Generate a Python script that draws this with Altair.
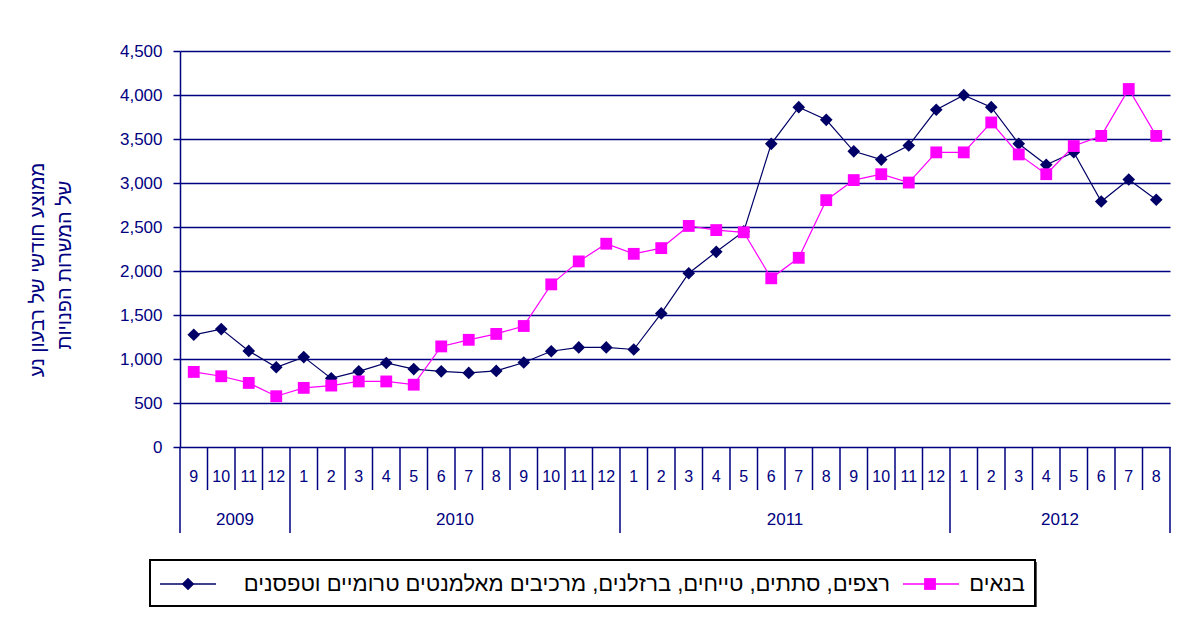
import altair as alt
import pandas as pd

# ---- data ----
month_labels = ["9", "10", "11", "12",
                "1", "2", "3", "4", "5", "6", "7", "8", "9", "10", "11", "12",
                "1", "2", "3", "4", "5", "6", "7", "8", "9", "10", "11", "12",
                "1", "2", "3", "4", "5", "6", "7", "8"]
years = ["2009", "2010", "2011", "2012"]
months_per_year = [4, 12, 12, 8]

navy_name = "רצפים, סתתים, טייחים, ברזלנים, מרכיבים מאלמנטים טרומיים וטפסנים"
magenta_name = "בנאים"

navy_values = [1275, 1340, 1092, 906,
               1022, 780, 860, 955, 885, 860, 842, 865, 960, 1088, 1132, 1132,
               1108, 1518, 1975, 2218, 2450, 3445, 3862, 3718, 3360, 3266, 3426, 3832,
               3998, 3862, 3446, 3207, 3350, 2790, 3040, 2810]
magenta_values = [853, 804, 728, 577,
                  672, 698, 745, 745, 708, 1143, 1218, 1285, 1375, 1848, 2109, 2310,
                  2195, 2260, 2512, 2465, 2440, 1917, 2150, 2805, 3033, 3100, 3005, 3348,
                  3348, 3688, 3325, 3100, 3420, 3535, 4068, 3535]
y_ticks = [0, 500, 1000, 1500, 2000, 2500, 3000, 3500, 4000, 4500]
y_title = ["ממוצע חודשי של רבעון נע", "של המשרות הפנויות"]

# ---- tables ----
n = len(month_labels)
pos = [k + 0.5 for k in range(n)]
df_navy = pd.DataFrame({"pos": pos, "v": navy_values})
df_mag = pd.DataFrame({"pos": pos, "v": magenta_values})
df_months = pd.DataFrame({"pos": pos, "m": month_labels})

year_bounds = [0]
for c in months_per_year:
    year_bounds.append(year_bounds[-1] + c)
year_centers = [(year_bounds[k] + year_bounds[k + 1]) / 2 for k in range(len(years))]
df_years = pd.DataFrame({"pos": year_centers, "y": years})
df_ysep = pd.DataFrame({"b": year_bounds})
df_msep = pd.DataFrame({"b": [k for k in range(1, n) if k not in year_bounds]})

W, H = 990, 396
NAVY = "#000080"
FONT = "Liberation Sans"

xs = alt.Scale(domain=[0, n], nice=False, zero=False)
ys = alt.Scale(domain=[0, 4500], nice=False)

yaxis = alt.Axis(values=y_ticks, format=",.0f", grid=True, gridColor=NAVY, gridWidth=1.5,
                 gridOpacity=1, domainColor=NAVY, domainWidth=1.5, tickColor=NAVY,
                 tickSize=7, tickWidth=1.5, labelColor=NAVY, labelFont=FONT,
                 labelFontSize=17, labelPadding=11, title=None)

base_navy = alt.Chart(df_navy).mark_line(
    color="#000066", strokeWidth=1.2,
    point=alt.OverlayMarkDef(shape="diamond", size=160, filled=True, color="#000066")
).encode(x=alt.X("pos:Q", scale=xs, axis=None), y=alt.Y("v:Q", scale=ys, axis=yaxis))

mag = alt.Chart(df_mag).mark_line(
    color="#FF00FF", strokeWidth=1.2,
    point=alt.OverlayMarkDef(shape="square", size=140, filled=True, color="#FF00FF")
).encode(x=alt.X("pos:Q", scale=xs, axis=None), y=alt.Y("v:Q", scale=ys))

msep = alt.Chart(df_msep).mark_rule(color=NAVY, strokeWidth=1.5).encode(
    x=alt.X("b:Q", scale=xs), y=alt.value(H), y2=alt.value(H + 43))
ysep = alt.Chart(df_ysep).mark_rule(color=NAVY, strokeWidth=1.5).encode(
    x=alt.X("b:Q", scale=xs), y=alt.value(H), y2=alt.value(H + 86))

mtext = alt.Chart(df_months).mark_text(color=NAVY, font=FONT, fontSize=16, baseline="middle").encode(
    x=alt.X("pos:Q", scale=xs), y=alt.value(H + 30), text="m:N")
ytext = alt.Chart(df_years).mark_text(color=NAVY, font=FONT, fontSize=17, baseline="middle").encode(
    x=alt.X("pos:Q", scale=xs), y=alt.value(H + 73), text="y:N")

df_title = pd.DataFrame({"t": y_title})
title1 = alt.Chart(df_title.iloc[[0]]).mark_text(color=NAVY, font=FONT, fontSize=20, angle=270,
                                                 baseline="middle", align="center").encode(
    x=alt.value(-142), y=alt.value(219), text="t:N")
title2 = alt.Chart(df_title.iloc[[1]]).mark_text(color=NAVY, font=FONT, fontSize=20, angle=270,
                                                 baseline="middle", align="center").encode(
    x=alt.value(-115), y=alt.value(214), text="t:N")

# ---- legend (custom, right-to-left) ----
df_leg = pd.DataFrame({"name": [navy_name, magenta_name]})
LY = 533
leg_shadow = alt.Chart(df_leg.iloc[[0]]).mark_rect(fill="#555555").encode(
    x=alt.value(-28), x2=alt.value(857), y=alt.value(511), y2=alt.value(557))
leg_box = alt.Chart(df_leg.iloc[[0]]).mark_rect(fill="white", stroke="black", strokeWidth=2).encode(
    x=alt.value(-30), x2=alt.value(855), y=alt.value(509), y2=alt.value(555))
leg_line_navy = alt.Chart(df_leg.iloc[[0]]).mark_rule(color="#000066", strokeWidth=1.5).encode(
    x=alt.value(-20), x2=alt.value(36), y=alt.value(LY))
leg_pt_navy = alt.Chart(df_leg.iloc[[0]]).mark_point(shape="diamond", size=160, filled=True,
                                                     color="#000066", opacity=1).encode(
    x=alt.value(8), y=alt.value(LY))
leg_txt_navy = alt.Chart(df_leg.iloc[[0]]).mark_text(font=FONT, fontSize=22, color="black",
                                                     align="right", baseline="middle").encode(
    x=alt.value(710), y=alt.value(LY), text="name:N")
leg_line_mag = alt.Chart(df_leg.iloc[[1]]).mark_rule(color="#FF00FF", strokeWidth=1.5).encode(
    x=alt.value(723), x2=alt.value(779), y=alt.value(LY))
leg_pt_mag = alt.Chart(df_leg.iloc[[1]]).mark_point(shape="square", size=140, filled=True,
                                                    color="#FF00FF", opacity=1).encode(
    x=alt.value(750), y=alt.value(LY))
leg_txt_mag = alt.Chart(df_leg.iloc[[1]]).mark_text(font=FONT, fontSize=22, color="black",
                                                    align="right", baseline="middle").encode(
    x=alt.value(845), y=alt.value(LY), text="name:N")

chart = alt.layer(
    base_navy, mag, msep, ysep, mtext, ytext, title1, title2,
    leg_shadow, leg_box, leg_line_navy, leg_pt_navy, leg_txt_navy,
    leg_line_mag, leg_pt_mag, leg_txt_mag
).properties(
    width=W, height=H,
    padding={"left": 172, "top": 43, "right": 1, "bottom": 160},
    autosize=alt.AutoSizeParams(type="none"),
    background="white",
).configure_view(stroke=None)

chart.save("out.html", embed_options={"renderer": "svg", "actions": False})
